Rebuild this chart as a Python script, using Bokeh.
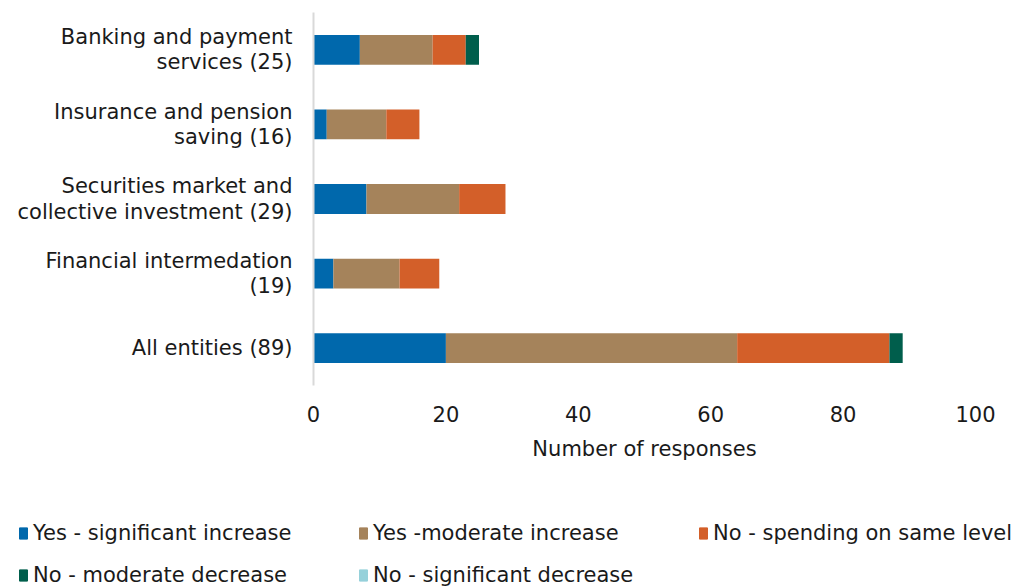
from bokeh.plotting import figure
from bokeh.layouts import column, row
from bokeh.models import ColumnDataSource, Legend, LegendItem, FactorRange
from bokeh.embed import file_html
from bokeh.resources import INLINE

categories = [
    "Banking and payment\nservices (25)",
    "Insurance and pension\nsaving (16)",
    "Securities market and\ncollective investment (29)",
    "Financial intermedation\n(19)",
    "All entities (89)",
]
series_names = [
    "Yes - significant increase",
    "Yes -moderate increase",
    "No - spending on same level",
    "No - moderate decrease",
    "No - significant decrease",
]
sig_increase = [7, 2, 8, 3, 20]
mod_increase = [11, 9, 14, 10, 44]
same_level = [5, 5, 7, 6, 23]
mod_decrease = [2, 0, 0, 0, 2]
sig_decrease = [0, 0, 0, 0, 0]
x_ticks = [0, 20, 40, 60, 80, 100]
colors = ["#0068AC", "#A5835B", "#D35F29", "#005E4C", "#96D1DA"]

FONT = "DejaVu Sans"
FS = "21px"
TXT = "#1a1a1a"

keys = ["s0", "s1", "s2", "s3", "s4"]
src = ColumnDataSource(dict(cat=categories, s0=sig_increase, s1=mod_increase,
                            s2=same_level, s3=mod_decrease, s4=sig_decrease))

p = figure(width=1035, height=500, y_range=FactorRange(*reversed(categories), range_padding=0),
           x_range=(0, 100), output_backend="svg", toolbar_location=None,
           min_border_left=313, min_border_right=60, min_border_top=12, min_border_bottom=115)
p.outline_line_color = None
p.xgrid.visible = False
p.ygrid.visible = False

rs = p.hbar_stack(keys, y="cat", height=0.4, color=colors, source=src, line_color=None)

p.xaxis.ticker = x_ticks
p.xaxis.axis_line_color = None
p.xaxis.major_tick_line_color = None
p.xaxis.minor_tick_line_color = None
p.xaxis.major_label_text_font = FONT
p.xaxis.major_label_text_font_size = FS
p.xaxis.major_label_text_color = TXT
p.xaxis.major_label_standoff = 14
p.xaxis.axis_label = "Number of responses"
p.xaxis.axis_label_text_font = FONT
p.xaxis.axis_label_text_font_size = FS
p.xaxis.axis_label_text_font_style = "normal"
p.xaxis.axis_label_text_color = TXT
p.xaxis.axis_label_standoff = 12

p.yaxis.axis_line_color = "#d9d9d9"
p.yaxis.axis_line_width = 2
p.yaxis.major_tick_line_color = None
p.yaxis.minor_tick_line_color = None
p.yaxis.major_label_text_font = FONT
p.yaxis.major_label_text_font_size = FS
p.yaxis.major_label_text_color = TXT
p.yaxis.major_label_text_line_height = 1.05
p.yaxis.major_label_standoff = 15

# legend panel (separate figure, full width)
p2 = figure(width=1035, height=87, output_backend="svg", toolbar_location=None,
            x_range=(0, 1), y_range=(0, 1))
p2.min_border_left = 0
p2.min_border_right = 0
p2.min_border_top = 0
p2.min_border_bottom = 0
p2.axis.visible = False
p2.grid.visible = False
p2.outline_line_color = None
lr = [p2.hbar(y=[0.5], left=[2], right=[3], height=0.1, color=c) for c in colors]
items = [LegendItem(label=n, renderers=[r]) for n, r in zip(series_names, lr)]
order = [0, 3, 1, 4, 2]  # legend grid fills column by column
legend = Legend(items=[items[i] for i in order], ncols=3, location=(18, 0),
                glyph_width=10, glyph_height=14, label_standoff=5,
                label_width=307, label_height=20, spacing=18,
                label_text_font=FONT, label_text_font_size=FS, label_text_color=TXT,
                border_line_color=None, background_fill_alpha=0, padding=0, margin=0)
p2.add_layout(legend, "center")

open("out.html", "w").write(file_html(column(p, row(p2), spacing=0), INLINE))
